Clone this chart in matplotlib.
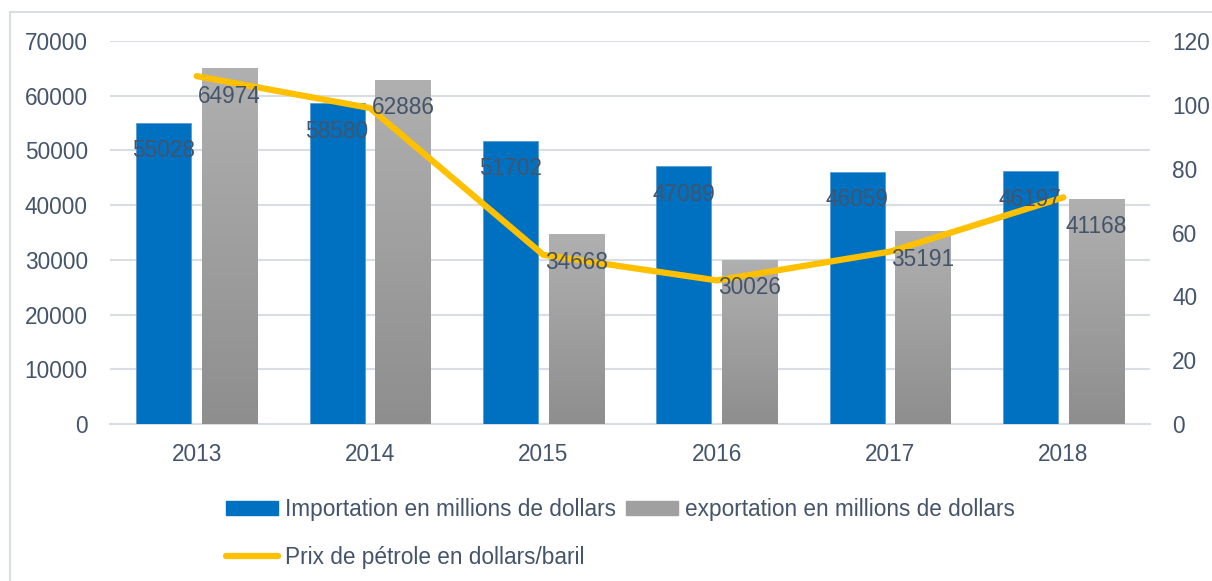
import numpy as np
import matplotlib
matplotlib.use("Agg")
import matplotlib.pyplot as plt
from matplotlib.patches import Rectangle, Patch
from matplotlib.lines import Line2D

plt.rcParams['font.family'] = ['Liberation Sans', 'DejaVu Sans']

years = ["2013", "2014", "2015", "2016", "2017", "2018"]
importation = [55028, 58580, 51702, 47089, 46059, 46197]
exportation = [64974, 62886, 34668, 30026, 35191, 41168]
prix_petrole = [109, 99, 53, 45, 54, 71]

txt = '#44546A'
grid_c = '#D9DEE5'
fs = 16.3

fig = plt.figure(figsize=(12.12, 5.81), dpi=100)
# cadre du graphique
fig.patches.append(Rectangle((10 / 1212, -0.2), 1.5, 1.2 - 12 / 581,
                             transform=fig.transFigure, fill=False,
                             edgecolor=grid_c, lw=1.5))

ax = fig.add_axes([110 / 1212, 1 - 424 / 581, 1040 / 1212, 383 / 581])
ax2 = ax.twinx()

x = np.arange(len(years))
w = 0.318
off = 0.19

b1 = ax.bar(x - off, importation, w, color='#0070C0', edgecolor='#5B9BD5',
            lw=0.6, zorder=3)
b2 = ax.bar(x + off, exportation, w, color='#A6A6A6', zorder=3)

# degrade gris sur les barres d'exportation (clair en haut, fonce en bas)
grad = np.linspace(0, 1, 256).reshape(-1, 1)
cmap = matplotlib.colors.LinearSegmentedColormap.from_list('g', ['#B0B0B0', '#8E8E8E'])
for r in b2:
    im = ax.imshow(grad, cmap=cmap, aspect='auto', zorder=3.5,
                   extent=[r.get_x(), r.get_x() + r.get_width(), 0, r.get_height()])
    im.set_clip_path(r)

ax2.plot(x, prix_petrole, color='#FFC000', lw=4.5, solid_capstyle='round',
         solid_joinstyle='round', zorder=4)

# etiquettes au-dessus de la courbe
for bars, vals in ((b1, importation), (b2, exportation)):
    for r, v in zip(bars, vals):
        ax2.annotate(str(v), (r.get_x() + r.get_width() / 2, v / 70000 * 120),
                     xytext=(0, -20), textcoords='offset points',
                     ha='center', va='center', color=txt, fontsize=fs, zorder=6)

ax.set_xlim(-0.5, len(years) - 0.5)
ax.set_ylim(0, 70000)
ax.set_yticks(range(0, 70001, 10000))
ax2.set_ylim(0, 120)
ax2.set_yticks(range(0, 121, 20))
ax.set_xticks(x)
ax.set_xticklabels(years)

ax.yaxis.grid(True, color=grid_c, lw=1.5, zorder=0)
ax.set_axisbelow(True)
for a in (ax, ax2):
    for s in a.spines.values():
        s.set_visible(False)
    a.tick_params(length=0, colors=txt, labelsize=fs)
ax.spines['bottom'].set_visible(True)
ax.spines['bottom'].set_color(grid_c)
ax.spines['bottom'].set_linewidth(1.5)
ax.tick_params(axis='y', pad=16)
ax.tick_params(axis='x', pad=14)
ax2.tick_params(axis='y', pad=16)

handles = [Patch(color='#0070C0'),
           Line2D([], [], color='#FFC000', lw=4.5, solid_capstyle='round'),
           Patch(color='#A0A0A0')]
labels = ["Importation en millions de dollars",
          "Prix de pétrole en dollars/baril",
          "exportation en millions de dollars"]
fig.legend(handles, labels, ncol=2, loc='upper left',
           bbox_to_anchor=(226 / 1212, 1 - 498 / 581), frameon=False,
           fontsize=fs, labelcolor=txt, handlelength=2.3, handleheight=0.62,
           handletextpad=0.3, columnspacing=0.45, labelspacing=1.1,
           borderaxespad=0, borderpad=0)

fig.savefig("out.png", dpi=100)
